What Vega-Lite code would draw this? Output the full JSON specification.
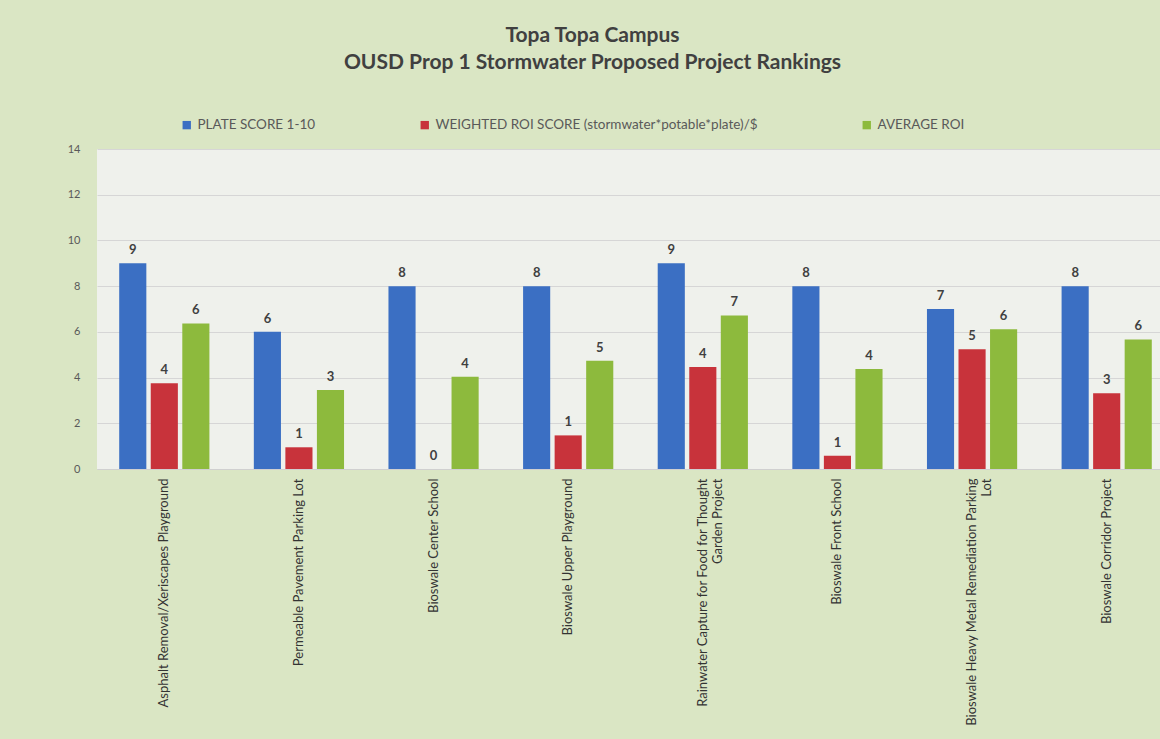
{
  "$schema": "https://vega.github.io/schema/vega-lite/v6.json",
  "autosize": {"type": "none"},
  "width": 1063,
  "height": 320,
  "padding": {"left": 97, "top": 149, "right": 0, "bottom": 270},
  "background": "#dae6c4",
  "title": {
    "text": ["Topa Topa Campus", "OUSD Prop 1 Stormwater Proposed Project Rankings"],
    "font": "Lato",
    "fontSize": 21,
    "fontWeight": "bold",
    "color": "#404040",
    "lineHeight": 27,
    "offset": 45,
    "dx": -36
  },
  "config": {
    "view": {"fill": "#eff1ec", "stroke": null}
  },
  "data": {
    "values": [
      {"project": "Asphalt Removal/Xeriscapes Playground", "series": "PLATE SCORE 1-10", "value": 9},
      {"project": "Asphalt Removal/Xeriscapes Playground", "series": "WEIGHTED ROI SCORE (stormwater*potable*plate)/$", "value": 3.75},
      {"project": "Asphalt Removal/Xeriscapes Playground", "series": "AVERAGE ROI", "value": 6.37},
      {"project": "Permeable Pavement Parking Lot", "series": "PLATE SCORE 1-10", "value": 6},
      {"project": "Permeable Pavement Parking Lot", "series": "WEIGHTED ROI SCORE (stormwater*potable*plate)/$", "value": 0.95},
      {"project": "Permeable Pavement Parking Lot", "series": "AVERAGE ROI", "value": 3.46},
      {"project": "Bioswale Center School", "series": "PLATE SCORE 1-10", "value": 8},
      {"project": "Bioswale Center School", "series": "WEIGHTED ROI SCORE (stormwater*potable*plate)/$", "value": 0},
      {"project": "Bioswale Center School", "series": "AVERAGE ROI", "value": 4.04},
      {"project": "Bioswale Upper Playground", "series": "PLATE SCORE 1-10", "value": 8},
      {"project": "Bioswale Upper Playground", "series": "WEIGHTED ROI SCORE (stormwater*potable*plate)/$", "value": 1.47},
      {"project": "Bioswale Upper Playground", "series": "AVERAGE ROI", "value": 4.74},
      {"project": "Rainwater Capture for Food for Thought Garden Project", "series": "PLATE SCORE 1-10", "value": 9},
      {"project": "Rainwater Capture for Food for Thought Garden Project", "series": "WEIGHTED ROI SCORE (stormwater*potable*plate)/$", "value": 4.46},
      {"project": "Rainwater Capture for Food for Thought Garden Project", "series": "AVERAGE ROI", "value": 6.72},
      {"project": "Bioswale Front School", "series": "PLATE SCORE 1-10", "value": 8},
      {"project": "Bioswale Front School", "series": "WEIGHTED ROI SCORE (stormwater*potable*plate)/$", "value": 0.58},
      {"project": "Bioswale Front School", "series": "AVERAGE ROI", "value": 4.37},
      {"project": "Bioswale Heavy Metal Remediation Parking Lot", "series": "PLATE SCORE 1-10", "value": 7},
      {"project": "Bioswale Heavy Metal Remediation Parking Lot", "series": "WEIGHTED ROI SCORE (stormwater*potable*plate)/$", "value": 5.24},
      {"project": "Bioswale Heavy Metal Remediation Parking Lot", "series": "AVERAGE ROI", "value": 6.11},
      {"project": "Bioswale Corridor Project", "series": "PLATE SCORE 1-10", "value": 8},
      {"project": "Bioswale Corridor Project", "series": "WEIGHTED ROI SCORE (stormwater*potable*plate)/$", "value": 3.31},
      {"project": "Bioswale Corridor Project", "series": "AVERAGE ROI", "value": 5.67}
    ]
  },
  "encoding": {
    "x": {
      "field": "project",
      "type": "nominal",
      "sort": null,
      "scale": {"range": [0, 1077], "paddingInner": 0.33, "paddingOuter": 0.165},
      "axis": {
        "title": null,
        "labelAngle": -90,
        "labelFont": "Lato",
        "labelFontSize": 13,
        "labelColor": "#333333",
        "labelPadding": 9,
        "labelLimit": 400,
        "labelLineHeight": 15,
        "ticks": false,
        "domainColor": "#d0d0d0",
        "labelExpr": "datum.label == 'Rainwater Capture for Food for Thought Garden Project' ? ['Rainwater Capture for Food for Thought', 'Garden Project'] : datum.label == 'Bioswale Heavy Metal Remediation Parking Lot' ? ['Bioswale Heavy Metal Remediation Parking', 'Lot'] : datum.label"
      }
    },
    "xOffset": {
      "field": "series",
      "type": "nominal",
      "sort": ["PLATE SCORE 1-10", "WEIGHTED ROI SCORE (stormwater*potable*plate)/$", "AVERAGE ROI"],
      "scale": {"paddingInner": 0.14}
    },
    "y": {
      "field": "value",
      "type": "quantitative",
      "scale": {"domain": [0, 14]},
      "axis": {
        "title": null,
        "values": [0, 2, 4, 6, 8, 10, 12, 14],
        "labelFont": "Lato",
        "labelFontSize": 11,
        "labelColor": "#595959",
        "labelPadding": 17,
        "ticks": false,
        "domain": false,
        "gridColor": "#d6d6d6"
      }
    }
  },
  "layer": [
    {
      "mark": {"type": "bar"},
      "encoding": {
        "color": {
          "field": "series",
          "type": "nominal",
          "sort": ["PLATE SCORE 1-10", "WEIGHTED ROI SCORE (stormwater*potable*plate)/$", "AVERAGE ROI"],
          "scale": {
            "domain": ["PLATE SCORE 1-10", "WEIGHTED ROI SCORE (stormwater*potable*plate)/$", "AVERAGE ROI"],
            "range": ["#3b6fc3", "#c8333b", "#8dba3d"]
          },
          "legend": {
            "orient": "none",
            "legendX": 83,
            "legendY": -31,
            "direction": "horizontal",
            "title": null,
            "symbolType": "square",
            "symbolSize": 70,
            "symbolStrokeWidth": 0,
            "labelFont": "Lato",
            "labelFontSize": 13.5,
            "labelColor": "#595959",
            "labelLimit": 400,
            "columnPadding": 102
          }
        }
      }
    },
    {
      "mark": {"type": "text", "baseline": "bottom", "dy": -6, "font": "Lato", "fontSize": 13, "fontWeight": "bold", "color": "#404040"},
      "encoding": {
        "text": {"field": "value", "type": "quantitative", "format": ".0f"}
      }
    }
  ]
}
